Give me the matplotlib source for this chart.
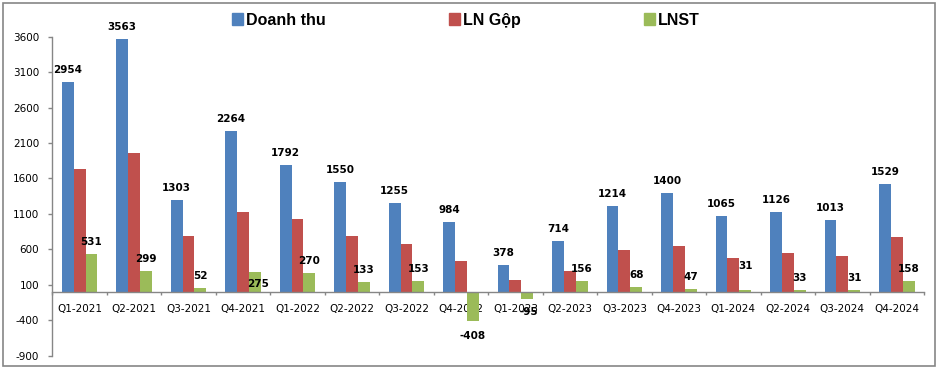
import numpy as np
from matplotlib import pyplot as plt
from matplotlib.patches import Patch, Rectangle

quarters = ['Q1-2021', 'Q2-2021', 'Q3-2021', 'Q4-2021', 'Q1-2022', 'Q2-2022', 'Q3-2022', 'Q4-2022',
            'Q1-2023', 'Q2-2023', 'Q3-2023', 'Q4-2023', 'Q1-2024', 'Q2-2024', 'Q3-2024', 'Q4-2024']
doanh_thu = [2954, 3563, 1303, 2264, 1792, 1550, 1255, 984, 378, 714, 1214, 1400, 1065, 1126, 1013, 1529]
ln_gop = [1730, 1965, 790, 1125, 1035, 787, 680, 432, 174, 291, 586, 647, 474, 544, 502, 773]  # no labels
lnst = [531, 299, 52, 275, 270, 133, 153, -408, -95, 156, 68, 47, 31, 33, 31, 158]

blue, red, green = '#4F81BD', '#C0504D', '#9BBB59'
axis_grey = '#868686'

plt.rcParams['axes.unicode_minus'] = False

fig = plt.figure(figsize=(9.41, 3.71), dpi=100)
ax = fig.add_axes([0.0556, 0.0412, 0.9264, 0.8599])

x = np.arange(len(quarters))
w = 0.218
bars_dt = ax.bar(x - w, doanh_thu, w, color=blue, zorder=2)
ax.bar(x, ln_gop, w, color=red, zorder=2)
bars_ln = ax.bar(x + w, lnst, w, color=green, zorder=2)

label_font = dict(fontsize=7.5, fontweight='bold', color='black', family='DejaVu Sans')
for bar, v in zip(bars_dt, doanh_thu):
    ax.annotate(str(v), (bar.get_x() + bar.get_width() / 2, v), xytext=(0, 12),
                textcoords='offset pixels', ha='center', va='center', **label_font)

# excel put a couple of labels in odd spots
odd_offsets = {3: (3, -12), 12: (0, 24), 7: (0, -15), 8: (2, -13)}
for i, (bar, v) in enumerate(zip(bars_ln, lnst)):
    off = odd_offsets.get(i, (0, 12))
    ax.annotate(str(v), (bar.get_x() + bar.get_width() / 2, v), xytext=off,
                textcoords='offset pixels', ha='center', va='center', zorder=5, **label_font)

ax.set_xlim(-0.5, len(quarters) - 0.5)
ax.set_ylim(-900, 3600)
ax.set_yticks(np.arange(-900, 3601, 500))
ax.set_xticks(x)
ax.set_xticklabels(quarters)
ax.set_xticks(np.arange(-0.5, len(quarters), 1), minor=True)

for side in ['top', 'right']:
    ax.spines[side].set_visible(False)
ax.spines['bottom'].set_position(('data', 0))
for side in ['left', 'bottom']:
    ax.spines[side].set_color(axis_grey)
    ax.spines[side].set_linewidth(1)

ax.tick_params(axis='y', direction='out', length=3, width=1, color=axis_grey, pad=6.5,
               labelsize=7.5, labelcolor='black')
ax.tick_params(axis='x', which='major', length=0, pad=8.5, labelsize=7.5, labelcolor='black')
ax.tick_params(axis='x', which='minor', direction='out', length=2.5, width=1, color=axis_grey)

handles = [Patch(color=blue, label='Doanh thu'), Patch(color=red, label='LN Gộp'),
           Patch(color=green, label='LNST')]
fig.legend(handles=handles, loc='center', bbox_to_anchor=(0.495, 0.946), ncol=3, frameon=False,
           prop=dict(family='Liberation Sans', weight='bold', size=11.5),
           handlelength=0.7, handleheight=0.7, handletextpad=0.2, columnspacing=7.7)

fig.patches.append(Rectangle((0.0032, 0.0135), 0.9904, 0.9785, transform=fig.transFigure,
                             fill=False, edgecolor=axis_grey, linewidth=1.2))

fig.savefig('out.png', dpi=100)
